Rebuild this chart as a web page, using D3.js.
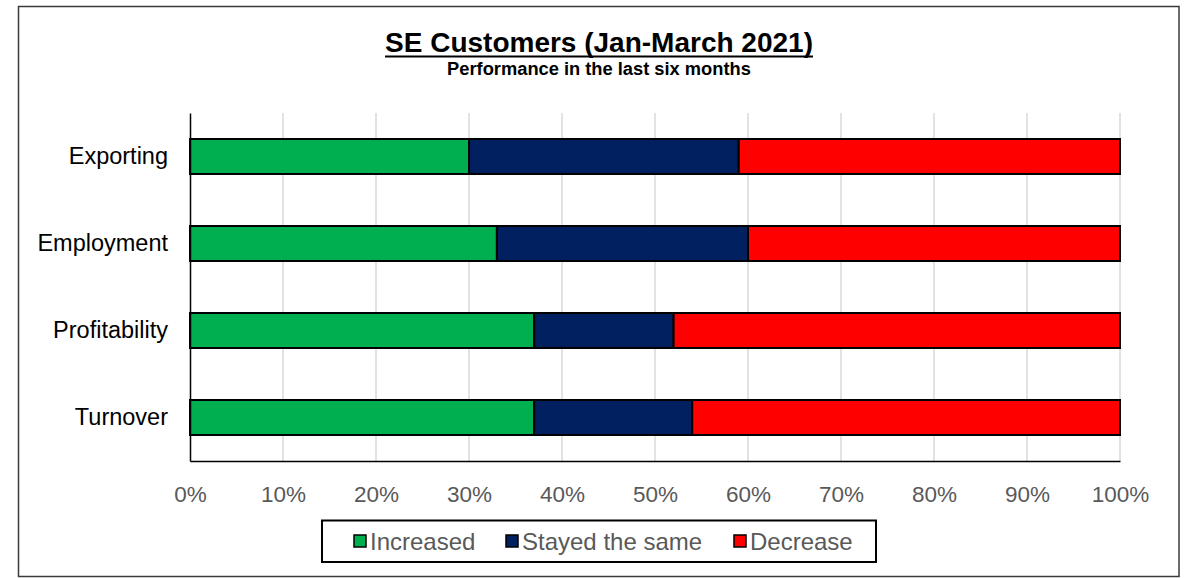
<!DOCTYPE html>
<html>
<head>
<meta charset="utf-8">
<script src="https://cdn.jsdelivr.net/npm/d3@7"></script>
<style>
  html, body { margin: 0; padding: 0; background: #fff; }
  svg { display: block; font-family: "Liberation Sans", Arial, sans-serif; }
</style>
</head>
<body>
<svg id="chart" width="1188" height="578"></svg>
<script>
// Survey categories, top to bottom
const categories = ["Exporting", "Employment", "Profitability", "Turnover"];
// Share of respondents (%) per answer
const increased = [30, 33, 37, 37];
const stayedSame = [29, 27, 15, 17];
const decrease = [41, 40, 48, 46];
const seriesNames = ["Increased", "Stayed the same", "Decrease"];
const seriesColors = ["#00B050", "#002060", "#FF0000"];
const tickValues = [0, 10, 20, 30, 40, 50, 60, 70, 80, 90, 100];

const svg = d3.select("#chart");

// Outer frame
svg.append("rect")
  .attr("x", 18.5).attr("y", 6.5)
  .attr("width", 1160.5).attr("height", 570)
  .attr("fill", "#fff").attr("stroke", "#3a3a3a").attr("stroke-width", 1.5);

// Title (underlined) and subtitle
const titleX = 599;
const title = svg.append("text")
  .attr("x", titleX).attr("y", 52)
  .attr("text-anchor", "middle")
  .attr("font-size", 28).attr("font-weight", "bold")
  .attr("fill", "#000")
  .text("SE Customers (Jan-March 2021)");
const tb = title.node().getBBox();
svg.append("line")
  .attr("x1", tb.x).attr("x2", tb.x + tb.width)
  .attr("y1", 56.5).attr("y2", 56.5)
  .attr("stroke", "#000").attr("stroke-width", 2.2);
svg.append("text")
  .attr("x", titleX).attr("y", 75)
  .attr("text-anchor", "middle")
  .attr("font-size", 18.3).attr("font-weight", "bold")
  .attr("fill", "#000")
  .text("Performance in the last six months");

// Scales
const x = d3.scaleLinear().domain([0, 100]).range([190, 1120]);
const y = d3.scaleBand().domain(categories).range([113, 461])
  .paddingInner(0.598).paddingOuter(0.299);

// Gridlines
svg.append("g").selectAll("line")
  .data(tickValues.filter(d => d > 0))
  .join("line")
  .attr("x1", d => x(d)).attr("x2", d => x(d))
  .attr("y1", 113).attr("y2", 461)
  .attr("stroke", "#d9d9d9").attr("stroke-width", 1.5);

// Stacked data
const rows = categories.map((c, i) => ({
  category: c,
  "Increased": increased[i],
  "Stayed the same": stayedSame[i],
  "Decrease": decrease[i]
}));
const stacked = d3.stack().keys(seriesNames)(rows);

svg.append("g").selectAll("g")
  .data(stacked)
  .join("g")
  .attr("fill", (d, i) => seriesColors[i])
  .selectAll("rect")
  .data(d => d)
  .join("rect")
  .attr("x", d => x(d[0]))
  .attr("width", d => x(d[1]) - x(d[0]))
  .attr("y", d => y(d.data.category))
  .attr("height", y.bandwidth())
  .attr("stroke", "#000").attr("stroke-width", 2);

// Axes
const xAxis = d3.axisBottom(x).tickValues(tickValues)
  .tickFormat(d => d + "%").tickSize(0).tickPadding(25);
const gx = svg.append("g").attr("transform", "translate(0,461)").call(xAxis);
gx.select(".domain").attr("stroke", "#000").attr("stroke-width", 1.5);
gx.selectAll("text")
  .attr("font-size", 22.5).attr("fill", "#595959")
  .attr("font-family", "'Liberation Sans', Arial, sans-serif");

const yAxis = d3.axisLeft(y).tickSize(0).tickPadding(22);
const gy = svg.append("g").attr("transform", "translate(190,0)").call(yAxis);
gy.select(".domain").attr("stroke", "#000").attr("stroke-width", 1.5);
gy.selectAll("text")
  .attr("font-size", 23.5).attr("fill", "#000")
  .attr("font-family", "'Liberation Sans', Arial, sans-serif");

// Legend
const legend = svg.append("g");
legend.append("rect")
  .attr("x", 322).attr("y", 520.5)
  .attr("width", 554).attr("height", 41.5)
  .attr("fill", "#fff").attr("stroke", "#000").attr("stroke-width", 2);
const legendX = [354, 506, 734];
seriesNames.forEach((name, i) => {
  legend.append("rect")
    .attr("x", legendX[i]).attr("y", 535)
    .attr("width", 12).attr("height", 12)
    .attr("fill", seriesColors[i]).attr("stroke", "#000").attr("stroke-width", 1.5);
  legend.append("text")
    .attr("x", legendX[i] + 16).attr("y", 549.5)
    .attr("font-size", 24).attr("fill", "#595959")
    .text(name);
});
</script>
</body>
</html>
